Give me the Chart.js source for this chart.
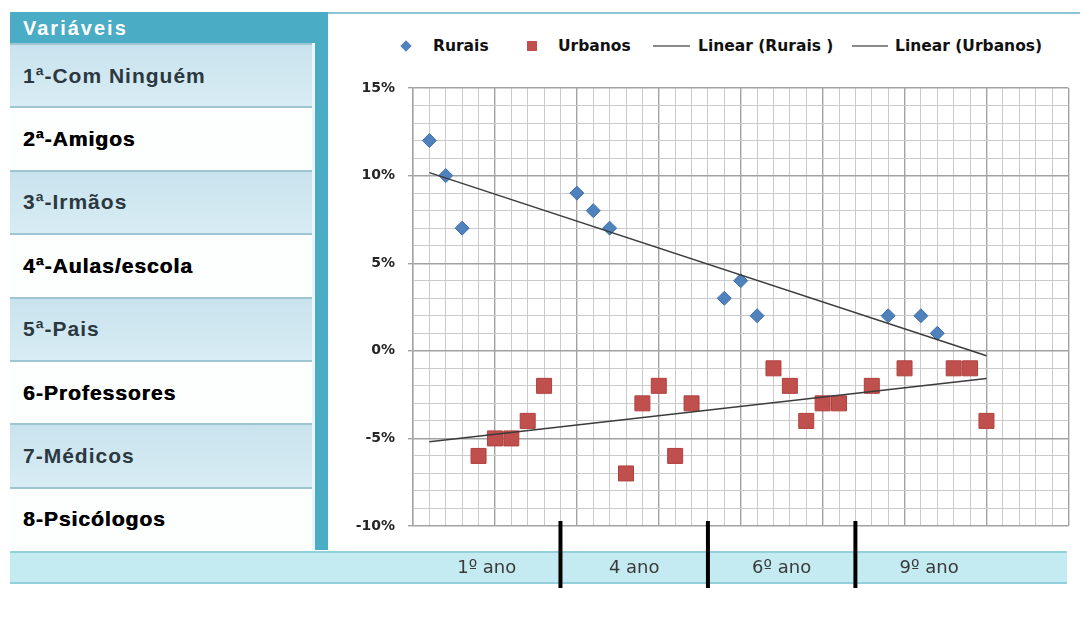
<!DOCTYPE html>
<html><head><meta charset="utf-8">
<script src="https://cdn.jsdelivr.net/npm/chart.js@4"></script>
<style>
body{margin:0;background:#fff;width:1086px;height:621px;position:relative;overflow:hidden;font-family:"Liberation Sans",Arial,sans-serif}
#table{position:absolute;left:10px;top:12px;width:318px;height:538px;background:#4bacc6}
#hdr{position:absolute;left:0;top:0;width:305px;height:31px;color:#fff;font-weight:bold;font-size:20px;letter-spacing:2px;line-height:32px;padding-left:13px;box-sizing:border-box}
.row{position:absolute;left:0;width:302px;box-sizing:border-box;padding-left:13px;display:flex;align-items:center;font-weight:bold;font-size:21px;letter-spacing:1px;border-top:2px solid #9fc4d2}
.row.b{background:linear-gradient(#c9e3ee,#d8ecf4);color:#2c3840}
.row.w{background:#fdfefe;color:#000;text-shadow:0.6px 0 0 #000}
#strip{position:absolute;left:302px;top:31px;width:3px;height:507px;background:#eaf6fa}
#panel{position:absolute;left:328px;top:12px;width:752px;height:538px;background:#fff;border-top:2px solid #8ec4d3;box-sizing:border-box}
#band{position:absolute;left:10px;top:551px;width:1057px;height:33px;background:#c5ebf2;border-top:2px solid #94d0dc;border-bottom:2px solid #94d0dc;box-sizing:border-box}
#cv{position:absolute;left:330px;top:14px}
.lg{position:absolute;font-family:"DejaVu Sans",sans-serif;font-weight:bold;font-size:15.5px;color:#111;line-height:18px;top:37px;white-space:pre}
.mk{position:absolute}
</style></head>
<body>
<div id="table"><div id="hdr">Variáveis</div><div id="strip"></div></div>
<div id="panel"></div>
<div id="band"></div>
<div id="legend"></div>
<canvas id="cv" width="750" height="586"></canvas>
<script>
// ---- data ----
const variables = ['1ª-Com Ninguém','2ª-Amigos','3ª-Irmãos','4ª-Aulas/escola','5ª-Pais','6-Professores','7-Médicos','8-Psicólogos'];
const ruraisX = [1,2,3,10,11,12,19,20,21,29,31,32];
const ruraisY = [12,10,7,9,8,7,3,4,2,2,2,1];
const urbanosX = [4,5,6,7,8,13,14,15,16,17,22,23,24,25,26,28,30,33,34,35];
const urbanosY = [-6,-5,-5,-4,-2,-7,-3,-2,-6,-3,-1,-2,-4,-3,-3,-2,-1,-1,-1,-4];
const seriesNames = ['Rurais','Urbanos'];
const trendNames = ['Linear (Rurais )','Linear (Urbanos)'];
const yearLabels = ['1º ano','4 ano','6º ano','9º ano'];
const yearCenters = [4.5,13.5,22.5,31.5];
const yearBoundaries = [9,18,27];
const yTickLabels = [-10,-5,0,5,10,15];
const xMin = 0, xMax = 40, yMin = -10, yMax = 15;

// ---- left table ----
const tbl = document.getElementById('table');
const rowH = (538-31)/variables.length;
variables.forEach((v,i)=>{
  const d = document.createElement('div');
  d.className = 'row ' + (i%2===0 ? 'b':'w');
  d.style.top = (31 + i*rowH) + 'px';
  d.style.height = rowH + 'px';
  d.textContent = v;
  tbl.appendChild(d);
});

// ---- legend (HTML) ----
const lg = document.getElementById('legend');
function add(html){ lg.insertAdjacentHTML('beforeend', html); }
add('<div class="mk" style="left:402px;top:42px;width:8px;height:8px;background:#4f81bd;transform:rotate(45deg)"></div>');
add('<div class="lg" style="left:433px">'+seriesNames[0]+'</div>');
add('<div class="mk" style="left:527px;top:41px;width:10px;height:10px;background:#c0504d"></div>');
add('<div class="lg" style="left:558px">'+seriesNames[1]+'</div>');
add('<div class="mk" style="left:653px;top:45px;width:37px;height:2px;background:#8a8a8a"></div>');
add('<div class="lg" style="left:698px">'+trendNames[0]+'</div>');
add('<div class="mk" style="left:852px;top:45px;width:36px;height:2px;background:#8a8a8a"></div>');
add('<div class="lg" style="left:895px">'+trendNames[1]+'</div>');

// ---- trendlines (least squares) ----
function linReg(xs, ys){
  const n = xs.length;
  const mx = xs.reduce((a,b)=>a+b,0)/n, my = ys.reduce((a,b)=>a+b,0)/n;
  let sxy=0, sxx=0;
  for(let i=0;i<n;i++){ sxy += (xs[i]-mx)*(ys[i]-my); sxx += (xs[i]-mx)**2; }
  const m = sxy/sxx; return {m, b: my - m*mx};
}
const allX = ruraisX.concat(urbanosX);
const tx0 = Math.min(...allX), tx1 = Math.max(...allX);
const rR = linReg(ruraisX, ruraisY), rU = linReg(urbanosX, urbanosY);
const trendR = [tx0,tx1].map(x=>({x, y: rR.m*x + rR.b}));
const trendU = [tx0,tx1].map(x=>({x, y: rU.m*x + rU.b}));

const MAJ = '#a2a2a2', MIN = '#cbcbcb';
const gridX = []; for(let v=xMin; v<=xMax; v++) gridX.push(v);
const gridY = []; for(let v=yMin; v<=yMax; v++) gridY.push(v);

const yearPlugin = {
  id:'years',
  afterDraw(chart){
    const ctx = chart.ctx, xs = chart.scales.x;
    ctx.save();
    ctx.strokeStyle = '#000'; ctx.lineWidth = 4;
    yearBoundaries.forEach(v=>{
      const px = xs.getPixelForValue(v);
      ctx.beginPath(); ctx.moveTo(px, 507); ctx.lineTo(px, 574); ctx.stroke();
    });
    ctx.fillStyle = '#3a3a3a';
    ctx.font = '18px "DejaVu Sans"';
    ctx.textAlign = 'center'; ctx.textBaseline = 'middle';
    yearLabels.forEach((t,i)=> ctx.fillText(t, xs.getPixelForValue(yearCenters[i]), 554));
    ctx.restore();
  }
};

new Chart(document.getElementById('cv'), {
  type:'scatter',
  data:{ datasets:[
    {label:trendNames[0], data:trendR, showLine:true, borderColor:'#3b3b3b', borderWidth:1.5, pointRadius:0, order:0},
    {label:trendNames[1], data:trendU, showLine:true, borderColor:'#3b3b3b', borderWidth:1.5, pointRadius:0, order:0},
    {label:seriesNames[0], data:ruraisX.map((x,i)=>({x, y:ruraisY[i]})), pointStyle:'rectRot', pointRadius:7, backgroundColor:'#4f81bd', borderColor:'#3f70ab', borderWidth:1, order:1},
    {label:seriesNames[1], data:urbanosX.map((x,i)=>({x, y:urbanosY[i]})), pointStyle:'rect', pointRadius:10.6, backgroundColor:'#c0504d', borderColor:'#b0403d', borderWidth:1, order:1}
  ]},
  options:{
    responsive:false, animation:false, devicePixelRatio:1,
    layout:{padding:{left:0, right:2, top:74, bottom:74}},
    plugins:{legend:{display:false}, tooltip:{enabled:false}},
    scales:{
      x:{type:'linear', min:xMin, max:xMax,
        afterBuildTicks:s=>{ s.ticks = gridX.map(v=>({value:v})); },
        ticks:{display:false},
        grid:{drawTicks:false, color:c=> (c.tick && c.tick.value%5===0) ? MAJ : MIN, lineWidth:c=> (c.tick && c.tick.value%5===0) ? 1.4 : 1},
        border:{display:false},
        afterFit:s=>{ s.height = 0; }
      },
      y:{type:'linear', min:yMin, max:yMax,
        afterBuildTicks:s=>{ s.ticks = gridY.map(v=>({value:v})); },
        ticks:{autoSkip:false, padding:13, color:'#262626', font:{family:'DejaVu Sans', weight:'bold', size:14},
          callback:v=> yTickLabels.includes(v) ? v+'%' : ''},
        grid:{tickLength:5, color:c=> (c.tick && c.tick.value%5===0) ? MAJ : MIN,
          lineWidth:c=> (c.tick && c.tick.value%5===0) ? 1.4 : 1,
          tickColor:c=> (c.tick && c.tick.value%5===0) ? MAJ : 'rgba(0,0,0,0)'},
        border:{display:true, color:MAJ, width:1.4},
        afterFit:s=>{ s.width = 83; }
      }
    }
  },
  plugins:[yearPlugin]
});
</script>
</body></html>
